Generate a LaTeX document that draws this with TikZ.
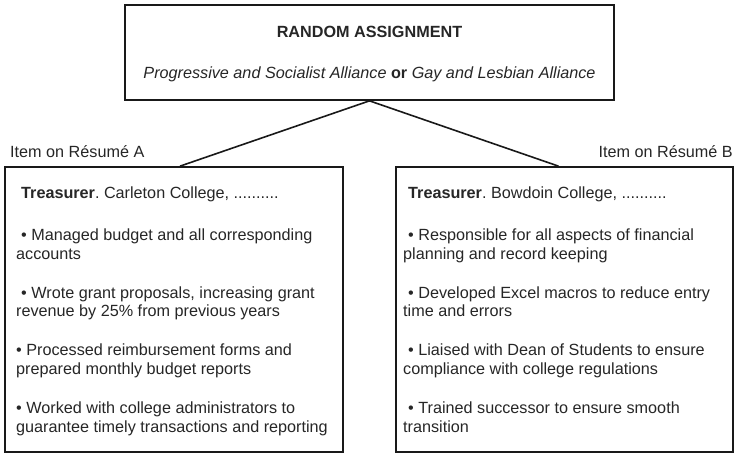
\documentclass[tikz,border=0pt]{standalone}
\usepackage{fontspec}
\setmainfont{Liberation Sans}
\usetikzlibrary{positioning}
\frenchspacing
\begin{document}
\begin{tikzpicture}[x=1pt,y=-1pt,
  box/.style={draw=black!90, line width=1.7pt, inner sep=0pt},
  txt/.style={font=\fontsize{16.2}{18.6}\selectfont, text=black!85, inner sep=0pt},
  link/.style={line width=1.6pt, draw=black!90}]
  \useasboundingbox (0,0) rectangle (734,454);

  % Top Box
  \node[box, minimum width=489pt, minimum height=95pt] (assign) at (369.5,52.5) {};
  \node[txt, align=center] (assigntxt) at (369.5,54) {\textbf{RANDOM ASSIGNMENT}\\[21.5pt]
    \textit{Progressive and Socialist Alliance} \textbf{or} \textit{Gay and Lesbian Alliance}};

  % Left Box
  \node[box, minimum width=338pt, minimum height=285pt] (boxA) at (174,309.5) {};
  \node[txt, anchor=base west] (tagA) at (10,158) {Item on Résumé A};
  \node[txt, align=left, anchor=north west] (listA) at (16,187) {%
    \hspace*{5pt}\textbf{Treasurer}. Carleton College, ..........\\[23pt]
    \hspace*{5pt}• Managed budget and all corresponding\\
    accounts\\[20.5pt]
    \hspace*{5pt}• Wrote grant proposals, increasing grant\\
    revenue by 25\% from previous years\\[20.5pt]
    • Processed reimbursement forms and\\
    prepared monthly budget reports\\[20.5pt]
    • Worked with college administrators to\\
    guarantee timely transactions and reporting};

  % Right Box
  \node[box, minimum width=337pt, minimum height=285pt] (boxB) at (564.5,309.5) {};
  \node[txt, anchor=base east] (tagB) at (733,158) {Item on Résumé B};
  \node[txt, align=left, anchor=north west] (listB) at (403,187) {%
    \hspace*{5pt}\textbf{Treasurer}. Bowdoin College, ..........\\[23pt]
    \hspace*{5pt}• Responsible for all aspects of financial\\
    planning and record keeping\\[20.5pt]
    \hspace*{5pt}• Developed Excel macros to reduce entry\\
    time and errors\\[20.5pt]
    \hspace*{5pt}• Liaised with Dean of Students to ensure\\
    compliance with college regulations\\[20.5pt]
    \hspace*{5pt}• Trained successor to ensure smooth\\
    transition};

  % Links
  \draw[link] ([xshift=6pt]boxA.north) -- (assign.south) -- ([xshift=-6pt]boxB.north);
\end{tikzpicture}
\end{document}
